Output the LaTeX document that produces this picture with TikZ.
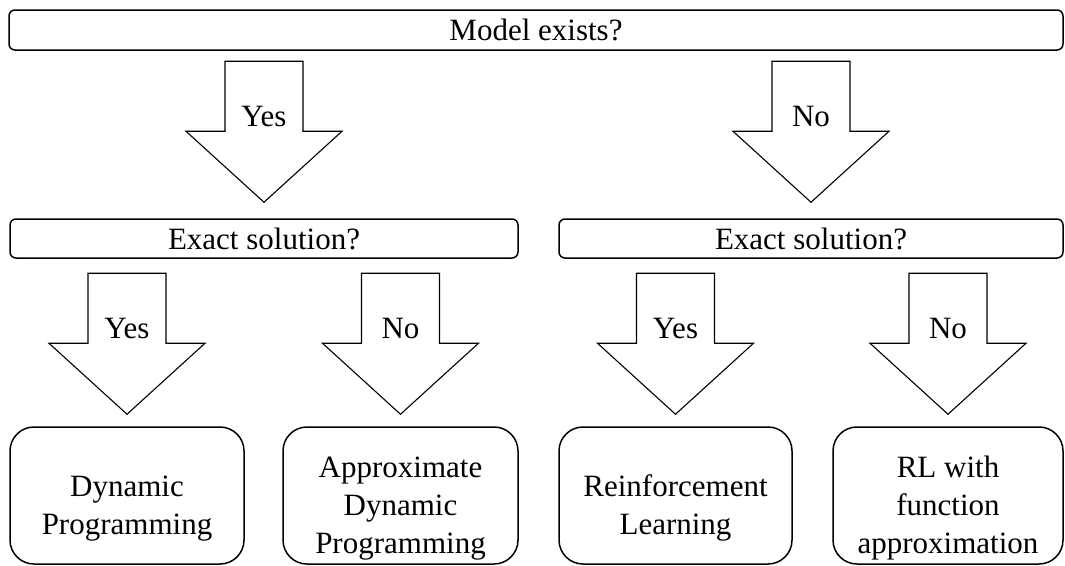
\documentclass[tikz,border=0pt]{standalone}
\usepackage{fontspec}
\setmainfont{Liberation Serif}
\usetikzlibrary{calc}

\tikzset{
  question/.style={draw, line width=1.5pt, rounded corners=6pt, inner sep=0pt,
    font=\fontsize{31}{38}\selectfont},
  outcome/.style={draw, line width=1.5pt, rounded corners=24pt, inner sep=0pt,
    align=center, font=\fontsize{31}{38}\selectfont},
  blockarrow/.style={draw, line width=1.1pt, fill=white, line join=miter},
  answer/.style={anchor=base, font=\fontsize{31}{38}\selectfont}
}

% tall first line: sets the outcome text a little low in its box
\newcommand{\topgap}{\rule{0pt}{47pt}}

% block arrow hanging above the tip coordinate #1, labelled #2
\newcommand{\decisionarrow}[2]{%
  \begin{scope}[shift={(#1)}]
    \draw[blockarrow] (-39,-141) -- (39,-141) -- (39,-71) -- (78,-71)
      -- (0,0) -- (-78,-71) -- (-39,-71) -- cycle;
    \node[answer] at (0,-76) {#2};
  \end{scope}}

\begin{document}
\begin{tikzpicture}[x=1pt, y=-1pt]
  \useasboundingbox (0,0) rectangle (1065,565);

  % questions
  \node[question, minimum width=1054pt, minimum height=40pt] (model) at (536,30) {Model exists?};
  \node[question, minimum width=508pt, minimum height=39pt] (exactL) at (264,238.5) {Exact solution?};
  \node[question, minimum width=504pt, minimum height=39pt] (exactR) at (811,238.5) {Exact solution?};

  % outcomes
  \node[outcome, minimum width=234pt, minimum height=137pt] (dp) at (127,495.5) {\topgap Dynamic\\Programming};
  \node[outcome, minimum width=235pt, minimum height=137pt] (adp) at (400.5,495.5) {\topgap Approximate\\Dynamic\\Programming};
  \node[outcome, minimum width=233pt, minimum height=137pt] (rl) at (675.5,495.5) {\topgap Reinforcement\\Learning};
  \node[outcome, minimum width=230pt, minimum height=137pt] (rlfa) at (948,495.5) {\topgap RL with\\function\\approximation};

  % arrow tips just above each target box
  \path (exactL.north) ++(0,-16) coordinate (tYes);
  \path (exactR.north) ++(0,-16) coordinate (tNo);
  \path (dp.north)     ++(0,-12) coordinate (tDP);
  \path (adp.north)    ++(0,-12) coordinate (tADP);
  \path (rl.north)     ++(0,-12) coordinate (tRL);
  \path (rlfa.north)   ++(0,-12) coordinate (tRLFA);

  \decisionarrow{tYes}{Yes}
  \decisionarrow{tNo}{No}
  \decisionarrow{tDP}{Yes}
  \decisionarrow{tADP}{No}
  \decisionarrow{tRL}{Yes}
  \decisionarrow{tRLFA}{No}
\end{tikzpicture}
\end{document}
